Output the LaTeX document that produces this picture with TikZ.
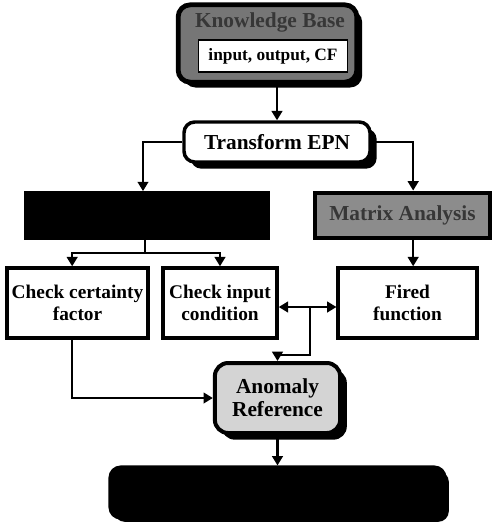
\documentclass[tikz,border=0pt]{standalone}
\usepackage{fontspec}
\setmainfont{Liberation Serif}
\usetikzlibrary{arrows.meta,positioning,shadows}
\definecolor{kbgray}{RGB}{118,118,118}
\definecolor{kbtext}{RGB}{55,55,55}
\definecolor{matgray}{RGB}{140,140,140}
\definecolor{anogray}{RGB}{212,212,212}

\begin{document}
\begin{tikzpicture}[
  x=0.75pt, y=-0.75pt,
  every node/.style={font=\fontsize{14.5}{16}\selectfont\bfseries},
  box/.style={draw, line width=2.6pt, align=center, inner sep=2pt,
              minimum width=#1},
  solid shade/.style={drop shadow={shadow xshift=#1, shadow yshift=-#1,
              fill=black, opacity=1}},
  arrow/.style={-{Triangle[width=8pt,length=7pt]}, line width=1.6pt},
  link/.style={line width=1.6pt}
]
\useasboundingbox (0,0) rectangle (494,525);

% knowledge base
\node[box=134pt, minimum height=58pt, rounded corners=9pt, line width=3.6pt,
      fill=kbgray, solid shade=4pt] (kb) at (267.5,43.5) {};
\node[text=kbtext, font=\fontsize{16}{18}\selectfont\bfseries] (kbtitle) at (270,22) {Knowledge Base};
\node[box=112pt, minimum height=24pt, line width=0.8pt, fill=white,
      font=\fontsize{13}{15}\selectfont\bfseries] (kbin) at (273,56) {input, output, CF};

\node[box=139.5pt, minimum height=30pt, rounded corners=8pt, fill=white,
      solid shade=5pt, font=\fontsize{16}{18}\selectfont\bfseries] (tepn) at (277,142) {Transform EPN};

% analysis
\node[box=181.5pt, minimum height=34pt, fill=black] (struct) at (147,215.5) {};
\node[box=131pt, minimum height=34pt, line width=3.4pt, fill=matgray, text=kbtext,
      font=\fontsize{16}{18}\selectfont\bfseries] (matrix) at (402.5,215.5) {Matrix Analysis};

% checks
\node[box=106pt, minimum height=52.5pt] (ccf) at (77.5,303) {Check certainty\\factor};
\node[box=85.5pt, minimum height=52.5pt] (cic) at (220,303) {Check input\\condition};
\node[box=104pt, minimum height=52.5pt] (ff)  at (407.5,303) {Fired\\function};

\node[box=94pt, minimum height=52.5pt, rounded corners=10pt, line width=3pt,
      fill=anogray, solid shade=5pt, font=\fontsize{16}{17}\selectfont\bfseries] (anomaly) at (277.5,398) {Anomaly\\Reference};

\node[box=251pt, minimum height=38pt, rounded corners=8pt, fill=black,
      solid shade=3pt] (result) at (277.5,492.5) {};

\coordinate (split) at (145,253);
\coordinate (mid) at (310,307);

\draw[arrow] (kb.south -| tepn.north) -- (tepn.north);
\draw[arrow] (tepn.west) -| ([xshift=-3pt]struct.north);
\draw[arrow] (tepn.east) -| ([xshift=8pt]matrix.north);
\draw[link]  (struct.south -| split) -- (split);
\draw[arrow] (split) -| ([xshift=-4pt]ccf.north);
\draw[arrow] (split) -| (cic.north);
\draw[arrow] ([xshift=8pt]matrix.south) -- ([xshift=8pt]matrix.south |- ff.north);
\draw[{Triangle[width=8pt,length=7pt]}-{Triangle[width=8pt,length=7pt]}, line width=1.6pt]
  (cic.east |- mid) -- (ff.west |- mid);
\draw[arrow] (mid) -- ++(0,48) -| (anomaly.north);
\draw[arrow] ([xshift=-4pt]ccf.south) |- (anomaly.west);
\draw[arrow] (anomaly.south) -- (result.north);
\end{tikzpicture}
\end{document}
